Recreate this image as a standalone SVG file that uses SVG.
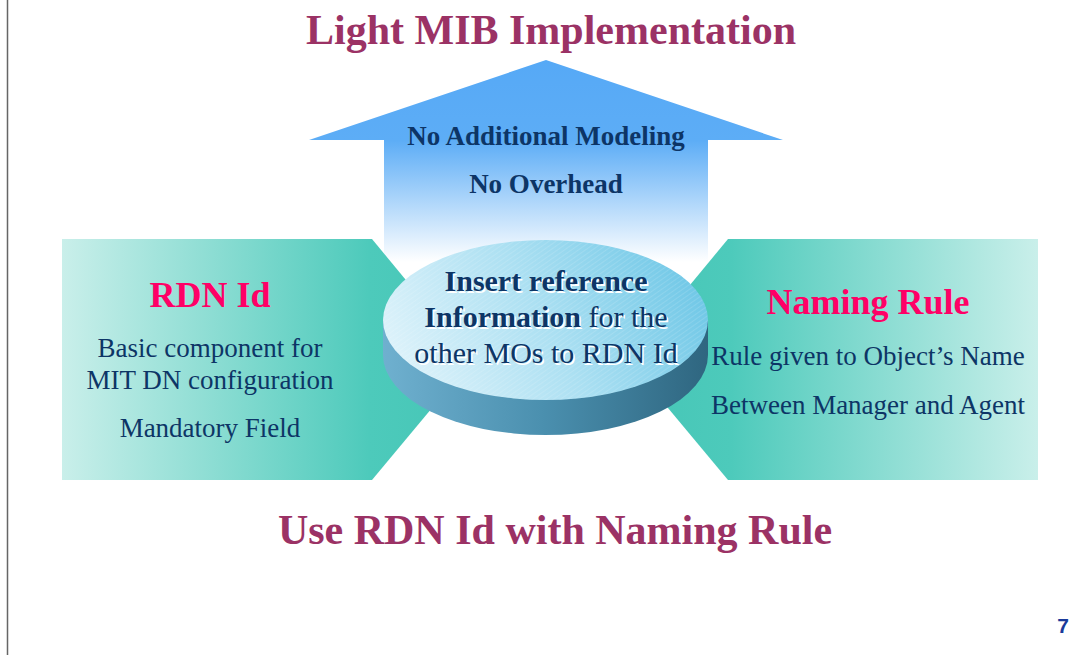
<svg xmlns="http://www.w3.org/2000/svg" width="1072" height="655" viewBox="0 0 1072 655">
  <defs>
    <linearGradient id="arrowFill" x1="0" y1="60" x2="0" y2="262" gradientUnits="userSpaceOnUse">
      <stop offset="0" stop-color="#56a9f6"/>
      <stop offset="0.4" stop-color="#5dadf6"/>
      <stop offset="1" stop-color="#ffffff"/>
    </linearGradient>
    <linearGradient id="leftFill" x1="62" y1="0" x2="472" y2="0" gradientUnits="userSpaceOnUse">
      <stop offset="0" stop-color="#c9efea"/>
      <stop offset="0.75" stop-color="#4dcabb"/>
      <stop offset="1" stop-color="#45c6b6"/>
    </linearGradient>
    <linearGradient id="rightFill" x1="628" y1="0" x2="1038" y2="0" gradientUnits="userSpaceOnUse">
      <stop offset="0" stop-color="#45c6b6"/>
      <stop offset="0.25" stop-color="#4dcabb"/>
      <stop offset="1" stop-color="#c9efea"/>
    </linearGradient>
    <linearGradient id="diskSide" x1="383" y1="0" x2="708" y2="0" gradientUnits="userSpaceOnUse">
      <stop offset="0" stop-color="#6fb0cf"/>
      <stop offset="0.5" stop-color="#4a8fae"/>
      <stop offset="1" stop-color="#2f6680"/>
    </linearGradient>
    <linearGradient id="diskTop" x1="400" y1="400" x2="690" y2="245" gradientUnits="userSpaceOnUse">
      <stop offset="0" stop-color="#e2f4fb"/>
      <stop offset="0.5" stop-color="#ace0f2"/>
      <stop offset="1" stop-color="#6cc6e6"/>
    </linearGradient>
    <pattern id="hatch" width="4" height="4" patternUnits="userSpaceOnUse" patternTransform="rotate(-35)">
      <line x1="0" y1="0" x2="4" y2="0" stroke="#ffffff" stroke-opacity="0.25" stroke-width="1"/>
    </pattern>
  </defs>
  <style>
    .title { font-family: "Liberation Serif", "Times New Roman", serif; font-weight: bold; fill: #9b3265; font-size: 42px; text-anchor: middle; }
    .head { font-family: "Liberation Serif", "Times New Roman", serif; font-weight: bold; fill: #ff0066; font-size: 36px; text-anchor: middle; }
    .body { font-family: "Liberation Serif", "Times New Roman", serif; fill: #0d3566; font-size: 27px; text-anchor: middle; }
    .bold { font-weight: bold; }
    .disk { font-family: "Liberation Serif", "Times New Roman", serif; fill: #0d3566; font-size: 30px; text-anchor: middle; }
    .halo { fill: #ffffff; }
  </style>

  <rect width="1072" height="655" fill="#ffffff"/>
  <line x1="7.5" y1="0" x2="7.5" y2="655" stroke="#666666" stroke-width="1.5"/>

  <text class="title" x="551" y="44">Light MIB Implementation</text>

  <g id="arrow-up">
    <polygon points="546,60 783,140 708,140 708,262 384,262 384,140 309,140" fill="url(#arrowFill)"/>
    <text class="body bold" x="546" y="145">No Additional Modeling</text>
    <text class="body bold" x="546" y="193">No Overhead</text>
  </g>

  <g id="rdn-id">
    <polygon points="62,239 372,239 472,360 372,480 62,480" fill="url(#leftFill)"/>
    <text class="head" x="210" y="307">RDN Id</text>
    <text class="body" x="210" y="357">Basic component for</text>
    <text class="body" x="210" y="389">MIT DN configuration</text>
    <text class="body" x="210" y="437">Mandatory Field</text>
  </g>

  <g id="naming-rule">
    <polygon points="1038,239 728,239 628,360 728,480 1038,480" fill="url(#rightFill)"/>
    <text class="head" x="868" y="314">Naming Rule</text>
    <text class="body" x="868" y="365">Rule given to Object’s Name</text>
    <text class="body" x="868" y="414">Between Manager and Agent</text>
  </g>

  <g id="reference-disk">
    <path d="M383,320 L383,355 A162.5,80 0 0 0 708,355 L708,320 Z" fill="url(#diskSide)"/>
    <ellipse cx="545.5" cy="320" rx="162.5" ry="80" fill="url(#diskTop)"/>
    <ellipse cx="545.5" cy="320" rx="162.5" ry="80" fill="url(#hatch)"/>
    <g class="disk halo" transform="translate(1.5,1.5)">
      <text x="546" y="291" class="bold">Insert reference</text>
      <text x="546" y="327"><tspan class="bold">Information</tspan> for the</text>
      <text x="546" y="363">other MOs to RDN Id</text>
    </g>
    <text class="disk bold" x="546" y="291">Insert reference</text>
    <text class="disk" x="546" y="327"><tspan class="bold">Information</tspan> for the</text>
    <text class="disk" x="546" y="363">other MOs to RDN Id</text>
  </g>

  <text class="title" x="555" y="544">Use RDN Id with Naming Rule</text>

  <text x="1069" y="633" font-family="Liberation Sans, Arial, sans-serif" font-weight="bold" font-size="21" fill="#1a3a9a" text-anchor="end">7</text>
</svg>
